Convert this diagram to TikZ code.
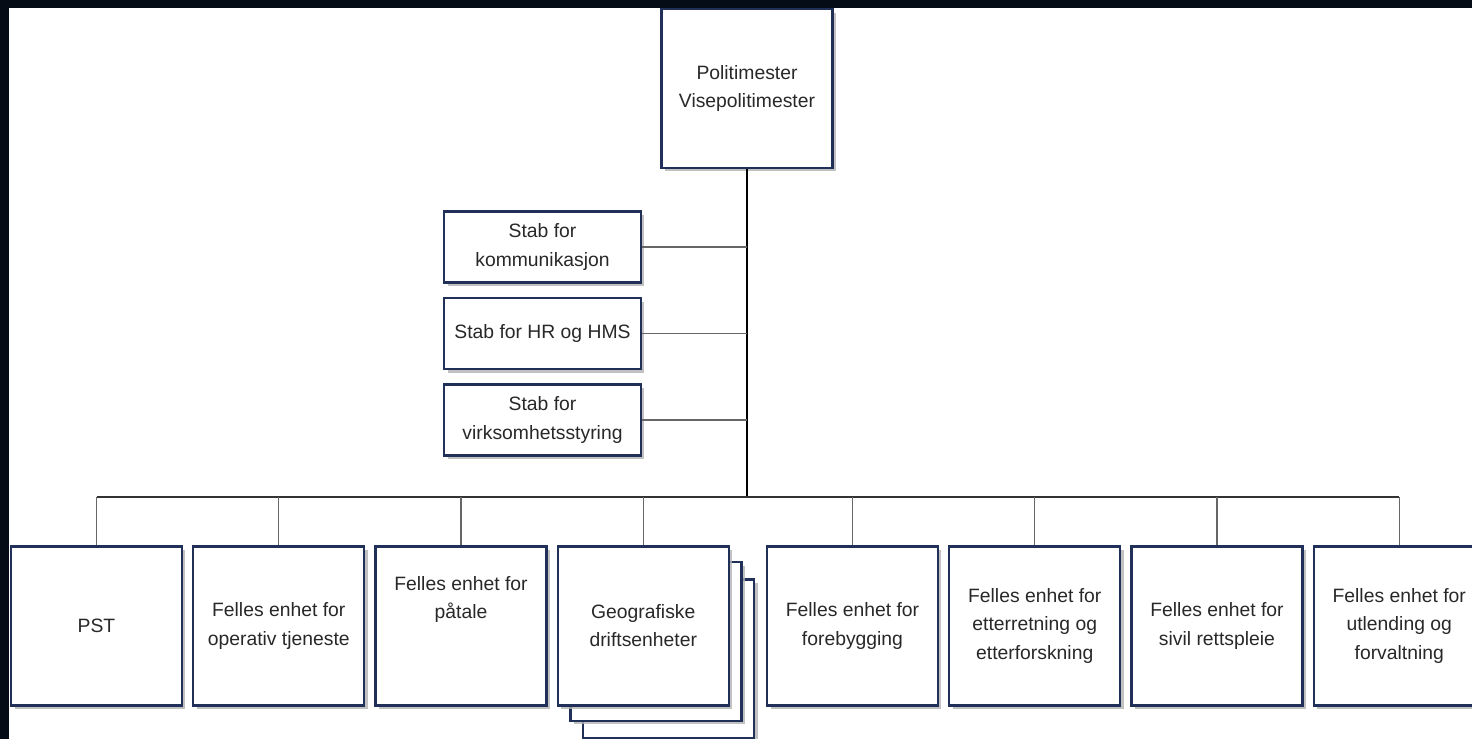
\documentclass[tikz,border=0pt]{standalone}
\usepackage{fontspec}
\setmainfont{Liberation Sans}
\usetikzlibrary{positioning}
\usetikzlibrary{shadows}
\definecolor{framebg}{RGB}{5,12,22}
\definecolor{boxline}{RGB}{32,48,88}
\definecolor{boxtext}{RGB}{40,40,40}

\begin{document}
\begin{tikzpicture}[
      x=0.02cm,y=-0.02cm,
      unit/.style={draw=boxline,line width=1.3pt,fill=white,text=boxtext,align=center,
        font=\fontsize{11}{16}\selectfont,inner sep=2pt,
        drop shadow={shadow xshift=2pt,shadow yshift=-2pt,fill=black!30,opacity=0.8}},
      bigbox/.style={unit,minimum width=3.42cm,minimum height=3.18cm},
      stabbox/.style={unit,minimum width=3.94cm,minimum height=1.42cm},
      trunk/.style={black,line width=1.2pt},
      bus/.style={black!80,line width=1pt},
      branch/.style={black!60,line width=0.8pt},
    ]
        \fill[framebg] (0,0) rectangle (1472,739);
        \fill[white] (9,8) rectangle (1472,739);
        \useasboundingbox (0,0) rectangle (1472,739);
        \clip (0,0) rectangle (1472,739);

        % leader and staff
        \node[bigbox] (chief) at (747,88.5) {Politimester\\Visepolitimester};
        \node[stabbox] (komm) at (542.5,247) {Stab for\\kommunikasjon};
        \node[stabbox] (hr) at (542.5,333.5) {Stab for HR og HMS};
        \node[stabbox] (styring) at (542.5,420) {Stab for\\virksomhetsstyring};
        \coordinate (hub) at (747,497);

        % units
        \node[bigbox] (pst) at (96.5,626) {PST};
        \node[bigbox,right=0.18cm of pst] (operativ) {Felles enhet for\\operativ tjeneste};
        \node[bigbox,right=0.18cm of operativ] (patale) {Felles enhet for\\påtale\\[16pt]};
        \node[bigbox] (geoC) at (668.5,659) {};
        \node[bigbox] (geoB) at (656,641.5) {};
        \node[bigbox,right=0.18cm of patale] (geo) {Geografiske\\driftsenheter};
        \node[bigbox,right=0.72cm of geo] (forebygging) {Felles enhet for\\forebygging};
        \node[bigbox,right=0.18cm of forebygging] (etterretning) {Felles enhet for\\etterretning og\\etterforskning};
        \node[bigbox,right=0.18cm of etterretning] (sivil) {Felles enhet for\\sivil rettspleie};
        \node[bigbox,right=0.18cm of sivil] (utlending) {Felles enhet for\\utlending og\\forvaltning};

        % lines
        \draw[trunk] (chief.south) -- (hub);
        \draw[branch] (komm.east) -- (komm.east -| hub);
        \draw[branch] (hr.east) -- (hr.east -| hub);
        \draw[branch] (styring.east) -- (styring.east -| hub);
        \draw[bus] (pst.north |- hub) -- (utlending.north |- hub);
        \foreach \u in {pst,operativ,patale,geo,forebygging,etterretning,sivil,utlending}
            \draw[branch] (\u.north) -- (\u.north |- hub);
    \end{tikzpicture}
\end{document}
